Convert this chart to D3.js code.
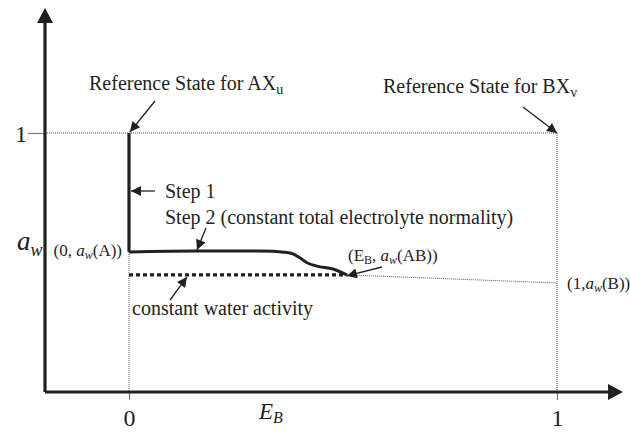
<!DOCTYPE html>
<html>
<head>
<meta charset="utf-8">
<script src="https://cdn.jsdelivr.net/npm/d3@7"></script>
<style>
  body { margin: 0; background: #fff; }
  svg { display: block; font-family: "Liberation Serif", "Times New Roman", serif; }
  .lbl { font-size: 20px; fill: #231f20; }
  .pt { font-size: 17px; fill: #231f20; }
</style>
</head>
<body>
<div id="chart"></div>
<script>
// Composition axis (E_B) and water activity values
var xTicks = [0, 1];
var yTicks = [1];
var stepE  = [0, 0.159, 0.306, 0.369, 0.383, 0.400, 0.416, 0.439, 0.477, 0.509];
var stepAw = [0.541, 0.544, 0.544, 0.539, 0.533, 0.517, 0.499, 0.486, 0.475, 0.452];
var awA = 0.541;   // a_w(A)
var awAB = 0.452;  // a_w(AB) = constant water activity
var awB = 0.421;   // a_w(B)
var EB = 0.509;

var svgWidth = 630;
var svgHeight = 432;

var svg = d3.select('#chart')
    .append('svg')
    .attr('width', svgWidth)
    .attr('height', svgHeight);

// Scales
var xScale = d3.scaleLinear().domain([0, 1]).range([129, 557]);
var yScale = d3.scaleLinear().domain([0, 1]).range([392, 133]);

var x0 = 45;   // y axis position
var ink = '#231f20';

// Arrow markers
var defs = svg.append('defs');
defs.append('marker')
    .attr('id', 'ah')
    .attr('viewBox', '0 0 10 10')
    .attr('refX', 10).attr('refY', 5)
    .attr('markerUnits', 'userSpaceOnUse')
    .attr('markerWidth', 13).attr('markerHeight', 10)
    .attr('orient', 'auto')
    .append('path').attr('d', 'M0,0L10,5L0,10Z').attr('fill', ink);

// Dotted guide lines
var dot = svg.append('g')
    .attr('stroke', '#555')
    .attr('stroke-width', 1)
    .attr('stroke-dasharray', '1,1')
    .attr('fill', 'none');
dot.append('line')
    .attr('x1', x0).attr('x2', xScale(1))
    .attr('y1', yScale(1)).attr('y2', yScale(1));
dot.append('line')
    .attr('x1', xScale(1)).attr('x2', xScale(1))
    .attr('y1', yScale(1)).attr('y2', yScale(0));
dot.append('line')
    .attr('x1', xScale(0)).attr('x2', xScale(0))
    .attr('y1', yScale(awA)).attr('y2', yScale(0));
dot.append('line')
    .attr('x1', xScale(EB)).attr('x2', xScale(1))
    .attr('y1', yScale(awAB)).attr('y2', yScale(awB));

// Axes (ticks and labels with d3 axis, thick lines + arrowheads drawn separately)
var xAxis = d3.axisBottom(xScale).tickValues(xTicks).tickSize(8).tickPadding(9).tickFormat(d3.format('d'));
var yAxis = d3.axisLeft(yScale).tickValues(yTicks).tickSize(17).tickPadding(1).tickFormat(d3.format('d'));

var gx = svg.append('g')
    .attr('transform', `translate(0, ${yScale(0)})`)
    .call(xAxis);
var gy = svg.append('g')
    .attr('transform', `translate(${x0}, 0)`)
    .call(yAxis);
[gx, gy].forEach(function(g) {
    g.select('.domain').remove();
    g.selectAll('.tick line').attr('stroke', '#777').attr('stroke-width', 1.2);
    g.selectAll('.tick text')
        .attr('fill', ink)
        .style('font-family', '"Liberation Serif", serif')
        .style('font-size', '24px');
});
gy.selectAll('.tick text').attr('dy', '0.35em');

svg.append('path')
    .attr('d', `M${x0},${yScale(0)}V23M${x0},${yScale(0)}H608`)
    .attr('stroke', ink).attr('stroke-width', 3.2).attr('fill', 'none');
svg.append('path')
    .attr('d', `M${x0},8L53,23L37,23Z`).attr('fill', ink);
svg.append('path')
    .attr('d', `M623,${yScale(0)}L608,${yScale(0) - 8}L608,${yScale(0) + 8}Z`).attr('fill', ink);

// Constant water activity (dashed)
svg.append('line')
    .attr('x1', xScale(0)).attr('x2', xScale(EB))
    .attr('y1', yScale(awAB)).attr('y2', yScale(awAB))
    .attr('stroke', ink).attr('stroke-width', 3.2)
    .attr('stroke-dasharray', '4,3');

// Step 1: vertical path from reference state
svg.append('line')
    .attr('x1', xScale(0)).attr('x2', xScale(0))
    .attr('y1', yScale(1)).attr('y2', yScale(awA))
    .attr('stroke', ink).attr('stroke-width', 3.2);

// Step 2: constant total electrolyte normality
var line = d3.line()
    .x(function(d, i) { return xScale(stepE[i]); })
    .y(function(d) { return yScale(d); })
    .curve(d3.curveMonotoneX);
svg.append('path')
    .attr('d', line(stepAw))
    .attr('fill', 'none')
    .attr('stroke', ink)
    .attr('stroke-width', 3);

// Annotation arrows
function arrow(x1, y1, x2, y2) {
    svg.append('line')
        .attr('x1', x1).attr('y1', y1).attr('x2', x2).attr('y2', y2)
        .attr('stroke', ink).attr('stroke-width', 1.3)
        .attr('marker-end', 'url(#ah)');
}
arrow(155, 101, xScale(0) + 1, yScale(1) - 1);
arrow(523, 107, xScale(1), yScale(1));
arrow(155, 191, xScale(0) + 2, 191);
arrow(206, 228, 197, yScale(awA) - 2);
arrow(170, 300, 187, yScale(awAB) + 2);
arrow(382, 267, xScale(EB), yScale(awAB) + 1);

// Text labels
function label(x, y, anchor, cls) {
    return svg.append('text').attr('class', cls || 'lbl')
        .attr('x', x).attr('y', y).attr('text-anchor', anchor || 'start');
}
var t;
t = label(89, 90);
t.append('tspan').text('Reference State for AX');
t.append('tspan').attr('dy', 4).style('font-size', '14px').text('u');

t = label(383, 93);
t.append('tspan').text('Reference State for BX');
t.append('tspan').attr('dy', 4).style('font-size', '14px').text('v');

label(165, 198).text('Step 1');
label(165, 224).text('Step 2 (constant total electrolyte normality)');

t = label(122, 256, 'end', 'pt');
t.append('tspan').text('(0, ');
t.append('tspan').style('font-style', 'italic').text('a');
t.append('tspan').attr('dy', 3).style('font-style', 'italic').style('font-size', '12px').text('w');
t.append('tspan').attr('dy', -3).text('(A))');

t = label(348, 261, 'start', 'pt');
t.append('tspan').text('(E');
t.append('tspan').attr('dy', 3).style('font-size', '12px').text('B');
t.append('tspan').attr('dy', -3).text(', ');
t.append('tspan').style('font-style', 'italic').text('a');
t.append('tspan').attr('dy', 3).style('font-style', 'italic').style('font-size', '12px').text('w');
t.append('tspan').attr('dy', -3).text('(AB))');

t = label(567, 289, 'start', 'pt');
t.append('tspan').text('(1,');
t.append('tspan').style('font-style', 'italic').text('a');
t.append('tspan').attr('dy', 3).style('font-style', 'italic').style('font-size', '12px').text('w');
t.append('tspan').attr('dy', -3).text('(B))');

label(132, 315).text('constant water activity');

// Axis titles
t = svg.append('text').attr('x', 17).attr('y', 250)
    .attr('fill', ink).style('font-size', '27px').style('font-style', 'italic');
t.append('tspan').text('a');
t.append('tspan').attr('dy', 6).style('font-size', '18px').text('w');

t = svg.append('text').attr('x', 259).attr('y', 419)
    .attr('fill', ink).style('font-size', '23px').style('font-style', 'italic');
t.append('tspan').text('E');
t.append('tspan').attr('dy', 4).style('font-size', '16px').text('B');
</script>
</body>
</html>
